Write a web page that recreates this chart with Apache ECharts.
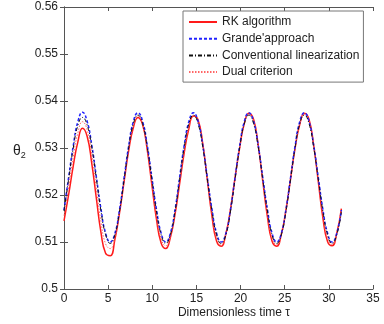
<!DOCTYPE html>
<html>
<head>
<meta charset="utf-8">
<script src="https://cdn.jsdelivr.net/npm/echarts@6/dist/echarts.min.js"></script>
<style>
  html, body { margin: 0; padding: 0; background: #fff; }
  #chart { width: 384px; height: 324px; }
</style>
</head>
<body>
<div id="chart"></div>
<script>
// dimensionless time samples
const tau = [0, 0.52, 1.05, 1.57, 2.09, 2.62, 3.14, 3.67, 4.19, 4.71, 5.24, 5.76,
  6.28, 6.81, 7.33, 7.85, 8.38, 8.90, 9.42, 9.95, 10.47, 11.00, 11.52, 12.04,
  12.57, 13.09, 13.61, 14.14, 14.66, 15.18, 15.71, 16.23, 16.76, 17.28, 17.80, 18.33,
  18.85, 19.37, 19.90, 20.42, 20.94, 21.47, 21.99, 22.51, 23.04, 23.56, 24.09, 24.61,
  25.13, 25.66, 26.18, 26.70, 27.23, 27.75, 28.27, 28.80, 29.32, 29.85, 30.37, 30.89,
  31.42]

const rkAlgorithm = [0.5145, 0.5200, 0.5262, 0.5313, 0.5342, 0.5325, 0.5268, 0.5192, 0.5120, 0.5076, 0.5071, 0.5105,
  0.5161, 0.5229, 0.5295, 0.5343, 0.5365, 0.5350, 0.5297, 0.5222, 0.5149, 0.5098, 0.5086, 0.5109,
  0.5158, 0.5223, 0.5289, 0.5341, 0.5368, 0.5360, 0.5310, 0.5233, 0.5155, 0.5102, 0.5091, 0.5117,
  0.5169, 0.5236, 0.5301, 0.5352, 0.5374, 0.5361, 0.5307, 0.5230, 0.5154, 0.5102, 0.5091, 0.5116,
  0.5167, 0.5234, 0.5300, 0.5350, 0.5374, 0.5361, 0.5307, 0.5229, 0.5152, 0.5101, 0.5092, 0.5118,
  0.5171]

const grandeApproach = [0.5168, 0.5237, 0.5305, 0.5356, 0.5376, 0.5357, 0.5307, 0.5238, 0.5170, 0.5119, 0.5100, 0.5118,
  0.5168, 0.5237, 0.5305, 0.5356, 0.5375, 0.5357, 0.5307, 0.5238, 0.5170, 0.5119, 0.5100, 0.5118,
  0.5168, 0.5237, 0.5305, 0.5356, 0.5375, 0.5357, 0.5307, 0.5238, 0.5170, 0.5119, 0.5100, 0.5118,
  0.5168, 0.5237, 0.5305, 0.5356, 0.5375, 0.5357, 0.5307, 0.5238, 0.5170, 0.5119, 0.5100, 0.5118,
  0.5168, 0.5237, 0.5305, 0.5356, 0.5375, 0.5357, 0.5307, 0.5238, 0.5170, 0.5119, 0.5100, 0.5118,
  0.5168]

const conventional = [0.5166, 0.5233, 0.5300, 0.5348, 0.5365, 0.5349, 0.5302, 0.5234, 0.5166, 0.5116, 0.5097, 0.5115,
  0.5164, 0.5233, 0.5301, 0.5351, 0.5370, 0.5352, 0.5303, 0.5234, 0.5166, 0.5116, 0.5097, 0.5115,
  0.5164, 0.5233, 0.5301, 0.5351, 0.5370, 0.5352, 0.5303, 0.5234, 0.5166, 0.5116, 0.5097, 0.5115,
  0.5164, 0.5233, 0.5301, 0.5351, 0.5370, 0.5352, 0.5303, 0.5234, 0.5166, 0.5116, 0.5097, 0.5115,
  0.5164, 0.5233, 0.5301, 0.5351, 0.5370, 0.5352, 0.5303, 0.5234, 0.5166, 0.5116, 0.5097, 0.5115,
  0.5164]

const dualCriterion = [0.5156, 0.5217, 0.5282, 0.5332, 0.5356, 0.5339, 0.5286, 0.5213, 0.5143, 0.5096, 0.5086, 0.5110,
  0.5163, 0.5231, 0.5298, 0.5347, 0.5368, 0.5351, 0.5300, 0.5228, 0.5158, 0.5107, 0.5092, 0.5112,
  0.5161, 0.5228, 0.5295, 0.5346, 0.5369, 0.5356, 0.5307, 0.5234, 0.5161, 0.5109, 0.5094, 0.5116,
  0.5167, 0.5235, 0.5301, 0.5352, 0.5372, 0.5357, 0.5305, 0.5232, 0.5160, 0.5109, 0.5094, 0.5116,
  0.5166, 0.5234, 0.5300, 0.5351, 0.5372, 0.5357, 0.5305, 0.5232, 0.5159, 0.5109, 0.5095, 0.5117,
  0.5168]

const seriesNames = ['RK algorithm', "Grande'approach", 'Conventional linearization', 'Dual criterion']

const pairs = (ys) => tau.map((t, i) => [t, ys[i]])
const font = 'Liberation Sans, Arial, sans-serif'
const axisColor = '#555'

const chart = echarts.init(document.getElementById('chart'))
const tickCommon = { show: true, inside: true, length: 4, lineStyle: { color: axisColor } }

const option = {
  animation: false,
  textStyle: { fontFamily: font },
  grid: { left: 64, right: 11, top: 7, bottom: 35 },
  legend: {
    orient: 'vertical',
    left: 183,
    top: 11,
    padding: [5, 4, 4, 5],
    itemWidth: 28,
    itemHeight: 12,
    itemGap: 4.7,
    itemTextGap: 5,
    borderColor: '#777',
    borderWidth: 1,
    backgroundColor: '#fff',
    itemStyle: { color: 'transparent', borderColor: 'transparent', borderWidth: 0 },
    textStyle: { fontFamily: font, fontSize: 12, color: '#222' },
    data: seriesNames
  },
  xAxis: [
    {
      type: 'value',
      min: 0,
      max: 35,
      interval: 5,
      axisLine: { show: true, lineStyle: { color: axisColor } },
      axisTick: tickCommon,
      splitLine: { show: false },
      axisLabel: { color: '#222', fontSize: 12, margin: 4 }
    },
    {
      type: 'value',
      position: 'top',
      min: 0,
      max: 35,
      interval: 5,
      axisLine: { show: true, lineStyle: { color: axisColor } },
      axisTick: tickCommon,
      splitLine: { show: false },
      axisLabel: { show: false }
    }
  ],
  yAxis: [
    {
      type: 'value',
      min: 0.5,
      max: 0.56,
      interval: 0.01,
      axisLine: { show: true, lineStyle: { color: axisColor } },
      axisTick: tickCommon,
      splitLine: { show: false },
      axisLabel: { color: '#222', fontSize: 12, margin: 6,
        formatter: (v) => String(parseFloat(v.toFixed(2))) }
    },
    {
      type: 'value',
      position: 'right',
      min: 0.5,
      max: 0.56,
      interval: 0.01,
      axisLine: { show: true, lineStyle: { color: axisColor } },
      axisTick: tickCommon,
      splitLine: { show: false },
      axisLabel: { show: false }
    }
  ],
  graphic: [
    {
      type: 'text',
      left: 13,
      top: 144,
      style: {
        text: '{a|θ}{b|2}',
        rich: {
          a: { fontFamily: font, fontSize: 14, fill: '#222' },
          b: { fontFamily: font, fontSize: 9, fill: '#222', padding: [9, 0, 0, 0] }
        }
      }
    },
    {
      type: 'text',
      x: 234,
      y: 313,
      style: {
        text: 'Dimensionless time τ',
        fontFamily: font,
        fontSize: 12,
        fill: '#222',
        align: 'center',
        verticalAlign: 'middle'
      }
    }
  ],
  series: [
    {
      name: seriesNames[0],
      type: 'line',
      smooth: true,
      symbol: 'none',
      data: pairs(rkAlgorithm),
      lineStyle: { color: '#ff1a1a', width: 1.5, type: 'solid' },
      itemStyle: { color: '#ff1a1a' },
      z: 2
    },
    {
      name: seriesNames[3],
      type: 'line',
      smooth: true,
      symbol: 'none',
      data: pairs(dualCriterion),
      lineStyle: { color: '#ff6666', width: 1, type: [1.5, 1.5] },
      itemStyle: { color: '#ff6666' },
      z: 3
    },
    {
      name: seriesNames[1],
      type: 'line',
      smooth: true,
      symbol: 'none',
      data: pairs(grandeApproach),
      lineStyle: { color: '#2222ff', width: 1.5, type: [3, 2] },
      itemStyle: { color: '#2222ff' },
      z: 4
    },
    {
      name: seriesNames[2],
      type: 'line',
      smooth: true,
      symbol: 'none',
      data: pairs(conventional),
      lineStyle: { color: '#111', width: 1, type: [4, 2, 1, 2] },
      itemStyle: { color: '#111' },
      z: 5
    }
  ]
}
chart.setOption(option)
</script>
</body>
</html>
